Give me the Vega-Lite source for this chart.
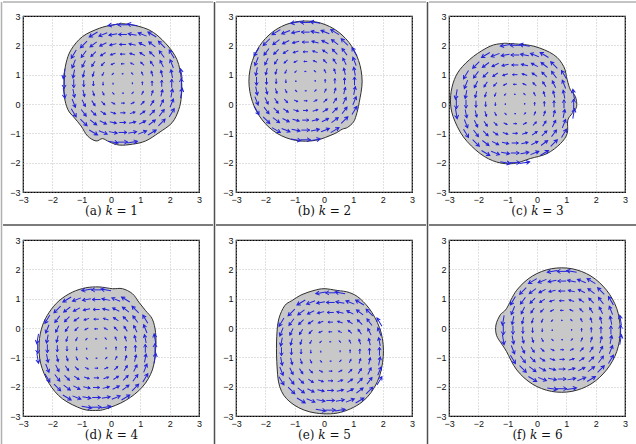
{
"$schema": "https://vega.github.io/schema/vega-lite/v6.json",
"padding": {"left": 0, "top": 1, "right": 0, "bottom": 0},
"background": "white",
"datasets": {
"blob": [
{"p":"a","o":1,"x":0.5,"y":2.73},{"p":"a","o":2,"x":1.29,"y":2.53},{"p":"a","o":3,"x":1.86,"y":2.07},{"p":"a","o":4,"x":2.25,"y":1.51},{"p":"a","o":5,"x":2.4,"y":0.83},{"p":"a","o":6,"x":2.4,"y":0.27},{"p":"a","o":7,"x":2.31,"y":-0.19},{"p":"a","o":8,"x":2.08,"y":-0.64},{"p":"a","o":9,"x":1.63,"y":-0.98},{"p":"a","o":10,"x":1.18,"y":-1.26},{"p":"a","o":11,"x":0.73,"y":-1.37},{"p":"a","o":12,"x":0.28,"y":-1.4},{"p":"a","o":13,"x":-0.06,"y":-1.29},{"p":"a","o":14,"x":-0.29,"y":-1.18},{"p":"a","o":15,"x":-0.51,"y":-1.26},{"p":"a","o":16,"x":-0.8,"y":-1.09},{"p":"a","o":17,"x":-1.02,"y":-0.75},{"p":"a","o":18,"x":-1.25,"y":-0.47},{"p":"a","o":19,"x":-1.47,"y":-0.19},{"p":"a","o":20,"x":-1.59,"y":0.27},{"p":"a","o":21,"x":-1.59,"y":0.94},{"p":"a","o":22,"x":-1.53,"y":1.4},{"p":"a","o":23,"x":-1.36,"y":1.85},{"p":"a","o":24,"x":-0.97,"y":2.3},{"p":"a","o":25,"x":-0.4,"y":2.58},{"p":"a","o":26,"x":0.05,"y":2.69},
{"p":"b","o":1,"x":1.3,"y":0.78},{"p":"b","o":2,"x":1.18,"y":1.48},{"p":"b","o":3,"x":0.85,"y":2.1},{"p":"b","o":4,"x":0.34,"y":2.56},{"p":"b","o":5,"x":-0.29,"y":2.8},{"p":"b","o":6,"x":-0.97,"y":2.8},{"p":"b","o":7,"x":-1.6,"y":2.56},{"p":"b","o":8,"x":-2.11,"y":2.1},{"p":"b","o":9,"x":-2.44,"y":1.48},{"p":"b","o":10,"x":-2.56,"y":0.78},{"p":"b","o":11,"x":-2.44,"y":0.08},{"p":"b","o":12,"x":-2.11,"y":-0.54},{"p":"b","o":13,"x":-1.6,"y":-1.0},{"p":"b","o":14,"x":-0.97,"y":-1.24},{"p":"b","o":15,"x":-0.29,"y":-1.24},{"p":"b","o":16,"x":0.34,"y":-1.02},{"p":"b","o":17,"x":0.62,"y":-0.86},{"p":"b","o":18,"x":0.8,"y":-0.8},{"p":"b","o":19,"x":1.0,"y":-0.62},{"p":"b","o":20,"x":1.1,"y":-0.38},{"p":"b","o":21,"x":1.2,"y":0.05},
{"p":"c","o":1,"x":-0.91,"y":2.06},{"p":"c","o":2,"x":-0.11,"y":1.97},{"p":"c","o":3,"x":0.57,"y":1.68},{"p":"c","o":4,"x":0.91,"y":1.28},{"p":"c","o":5,"x":1.03,"y":0.82},{"p":"c","o":6,"x":1.14,"y":0.48},{"p":"c","o":7,"x":1.31,"y":0.25},{"p":"c","o":8,"x":1.35,"y":-0.09},{"p":"c","o":9,"x":1.2,"y":-0.32},{"p":"c","o":10,"x":1.05,"y":-0.55},{"p":"c","o":11,"x":1.03,"y":-1.0},{"p":"c","o":12,"x":0.8,"y":-1.35},{"p":"c","o":13,"x":0.34,"y":-1.69},{"p":"c","o":14,"x":-0.23,"y":-1.86},{"p":"c","o":15,"x":-0.8,"y":-2.03},{"p":"c","o":16,"x":-1.37,"y":-1.98},{"p":"c","o":17,"x":-1.94,"y":-1.69},{"p":"c","o":18,"x":-2.51,"y":-1.12},{"p":"c","o":19,"x":-2.86,"y":-0.43},{"p":"c","o":20,"x":-2.95,"y":0.14},{"p":"c","o":21,"x":-2.86,"y":0.71},{"p":"c","o":22,"x":-2.63,"y":1.17},{"p":"c","o":23,"x":-2.17,"y":1.62},{"p":"c","o":24,"x":-1.6,"y":1.97},{"p":"c","o":25,"x":-1.2,"y":2.06},
{"p":"d","o":1,"x":-0.41,"y":1.4},{"p":"d","o":2,"x":0.05,"y":1.34},{"p":"d","o":3,"x":0.39,"y":1.34},{"p":"d","o":4,"x":0.73,"y":1.17},{"p":"d","o":5,"x":0.95,"y":0.88},{"p":"d","o":6,"x":1.18,"y":0.59},{"p":"d","o":7,"x":1.41,"y":0.3},{"p":"d","o":8,"x":1.52,"y":-0.16},{"p":"d","o":9,"x":1.52,"y":-0.74},{"p":"d","o":10,"x":1.41,"y":-1.43},{"p":"d","o":11,"x":1.07,"y":-2.01},{"p":"d","o":12,"x":0.5,"y":-2.47},{"p":"d","o":13,"x":-0.18,"y":-2.76},{"p":"d","o":14,"x":-0.52,"y":-2.81},{"p":"d","o":15,"x":-0.98,"y":-2.76},{"p":"d","o":16,"x":-1.66,"y":-2.41},{"p":"d","o":17,"x":-2.11,"y":-1.89},{"p":"d","o":18,"x":-2.4,"y":-1.2},{"p":"d","o":19,"x":-2.45,"y":-0.51},{"p":"d","o":20,"x":-2.34,"y":0.07},{"p":"d","o":21,"x":-2.11,"y":0.53},{"p":"d","o":22,"x":-1.77,"y":0.93},{"p":"d","o":23,"x":-1.32,"y":1.22},{"p":"d","o":24,"x":-0.86,"y":1.37},
{"p":"e","o":1,"x":-0.75,"y":1.14},{"p":"e","o":2,"x":-0.34,"y":1.28},{"p":"e","o":3,"x":0.0,"y":1.34},{"p":"e","o":4,"x":0.45,"y":1.28},{"p":"e","o":5,"x":0.86,"y":1.21},{"p":"e","o":6,"x":1.23,"y":1.0},{"p":"e","o":7,"x":1.64,"y":0.52},{"p":"e","o":8,"x":1.95,"y":-0.17},{"p":"e","o":9,"x":2.02,"y":-0.97},{"p":"e","o":10,"x":1.82,"y":-1.83},{"p":"e","o":11,"x":1.3,"y":-2.52},{"p":"e","o":12,"x":0.45,"y":-2.9},{"p":"e","o":13,"x":-0.48,"y":-2.86},{"p":"e","o":14,"x":-1.16,"y":-2.52},{"p":"e","o":15,"x":-1.51,"y":-2.0},{"p":"e","o":16,"x":-1.61,"y":-1.14},{"p":"e","o":17,"x":-1.61,"y":-0.28},{"p":"e","o":18,"x":-1.54,"y":0.31},{"p":"e","o":19,"x":-1.34,"y":0.76},{"p":"e","o":20,"x":-1.1,"y":0.93},
{"p":"f","o":1,"x":2.84,"y":-0.07},{"p":"f","o":2,"x":2.72,"y":0.66},{"p":"f","o":3,"x":2.37,"y":1.29},{"p":"f","o":4,"x":1.84,"y":1.77},{"p":"f","o":5,"x":1.19,"y":2.02},{"p":"f","o":6,"x":0.49,"y":2.02},{"p":"f","o":7,"x":-0.16,"y":1.77},{"p":"f","o":8,"x":-0.69,"y":1.29},{"p":"f","o":9,"x":-1.04,"y":0.66},{"p":"f","o":10,"x":-1.25,"y":0.45},{"p":"f","o":11,"x":-1.4,"y":0.1},{"p":"f","o":12,"x":-1.38,"y":-0.25},{"p":"f","o":13,"x":-1.2,"y":-0.55},{"p":"f","o":14,"x":-1.04,"y":-0.8},{"p":"f","o":15,"x":-0.69,"y":-1.43},{"p":"f","o":16,"x":-0.16,"y":-1.91},{"p":"f","o":17,"x":0.49,"y":-2.16},{"p":"f","o":18,"x":1.19,"y":-2.16},{"p":"f","o":19,"x":1.84,"y":-1.91},{"p":"f","o":20,"x":2.37,"y":-1.43},{"p":"f","o":21,"x":2.72,"y":-0.8}
],
"arrows": [
{"dx":0.33,"dy":0,"dir":90,"sp":0.33},{"dx":0.67,"dy":0,"dir":90,"sp":0.67},{"dx":1,"dy":0,"dir":90,"sp":1},{"dx":1.33,"dy":0,"dir":90,"sp":1.33},{"dx":1.67,"dy":0,"dir":90,"sp":1.67},{"dx":2,"dy":0,"dir":90,"sp":2},
{"dx":-0.33,"dy":0,"dir":270,"sp":0.33},{"dx":-0.67,"dy":0,"dir":270,"sp":0.67},{"dx":-1,"dy":0,"dir":270,"sp":1},{"dx":-1.33,"dy":0,"dir":270,"sp":1.33},{"dx":-1.67,"dy":0,"dir":270,"sp":1.67},{"dx":-2,"dy":0,"dir":270,"sp":2},
{"dx":0,"dy":0.33,"dir":180,"sp":0.33},{"dx":0,"dy":0.67,"dir":180,"sp":0.67},{"dx":0,"dy":1,"dir":180,"sp":1},{"dx":0,"dy":1.33,"dir":180,"sp":1.33},{"dx":0,"dy":1.67,"dir":180,"sp":1.67},{"dx":0,"dy":2,"dir":180,"sp":2},
{"dx":0,"dy":-0.33,"dir":0,"sp":0.33},{"dx":0,"dy":-0.67,"dir":0,"sp":0.67},{"dx":0,"dy":-1,"dir":0,"sp":1},{"dx":0,"dy":-1.33,"dir":0,"sp":1.33},{"dx":0,"dy":-1.67,"dir":0,"sp":1.67},{"dx":0,"dy":-2,"dir":0,"sp":2},
{"dx":0.33,"dy":0.33,"dir":135,"sp":0.47},{"dx":-0.33,"dy":0.33,"dir":225,"sp":0.47},{"dx":-0.33,"dy":-0.33,"dir":315,"sp":0.47},{"dx":0.33,"dy":-0.33,"dir":45,"sp":0.47},
{"dx":0.33,"dy":0.67,"dir":153.4,"sp":0.75},{"dx":-0.33,"dy":0.67,"dir":206.6,"sp":0.75},{"dx":-0.33,"dy":-0.67,"dir":333.4,"sp":0.75},{"dx":0.33,"dy":-0.67,"dir":26.6,"sp":0.75},
{"dx":0.33,"dy":1,"dir":161.6,"sp":1.05},{"dx":-0.33,"dy":1,"dir":198.4,"sp":1.05},{"dx":-0.33,"dy":-1,"dir":341.6,"sp":1.05},{"dx":0.33,"dy":-1,"dir":18.4,"sp":1.05},
{"dx":0.33,"dy":1.33,"dir":166,"sp":1.37},{"dx":-0.33,"dy":1.33,"dir":194,"sp":1.37},{"dx":-0.33,"dy":-1.33,"dir":346,"sp":1.37},{"dx":0.33,"dy":-1.33,"dir":14,"sp":1.37},
{"dx":0.33,"dy":1.67,"dir":168.7,"sp":1.7},{"dx":-0.33,"dy":1.67,"dir":191.3,"sp":1.7},{"dx":-0.33,"dy":-1.67,"dir":348.7,"sp":1.7},{"dx":0.33,"dy":-1.67,"dir":11.3,"sp":1.7},
{"dx":0.33,"dy":2,"dir":170.5,"sp":2.03},{"dx":-0.33,"dy":2,"dir":189.5,"sp":2.03},{"dx":-0.33,"dy":-2,"dir":350.5,"sp":2.03},{"dx":0.33,"dy":-2,"dir":9.5,"sp":2.03},
{"dx":0.67,"dy":0.33,"dir":116.6,"sp":0.75},{"dx":-0.67,"dy":0.33,"dir":243.4,"sp":0.75},{"dx":-0.67,"dy":-0.33,"dir":296.6,"sp":0.75},{"dx":0.67,"dy":-0.33,"dir":63.4,"sp":0.75},
{"dx":0.67,"dy":0.67,"dir":135,"sp":0.94},{"dx":-0.67,"dy":0.67,"dir":225,"sp":0.94},{"dx":-0.67,"dy":-0.67,"dir":315,"sp":0.94},{"dx":0.67,"dy":-0.67,"dir":45,"sp":0.94},
{"dx":0.67,"dy":1,"dir":146.3,"sp":1.2},{"dx":-0.67,"dy":1,"dir":213.7,"sp":1.2},{"dx":-0.67,"dy":-1,"dir":326.3,"sp":1.2},{"dx":0.67,"dy":-1,"dir":33.7,"sp":1.2},
{"dx":0.67,"dy":1.33,"dir":153.4,"sp":1.49},{"dx":-0.67,"dy":1.33,"dir":206.6,"sp":1.49},{"dx":-0.67,"dy":-1.33,"dir":333.4,"sp":1.49},{"dx":0.67,"dy":-1.33,"dir":26.6,"sp":1.49},
{"dx":0.67,"dy":1.67,"dir":158.2,"sp":1.8},{"dx":-0.67,"dy":1.67,"dir":201.8,"sp":1.8},{"dx":-0.67,"dy":-1.67,"dir":338.2,"sp":1.8},{"dx":0.67,"dy":-1.67,"dir":21.8,"sp":1.8},
{"dx":1,"dy":0.33,"dir":108.4,"sp":1.05},{"dx":-1,"dy":0.33,"dir":251.6,"sp":1.05},{"dx":-1,"dy":-0.33,"dir":288.4,"sp":1.05},{"dx":1,"dy":-0.33,"dir":71.6,"sp":1.05},
{"dx":1,"dy":0.67,"dir":123.7,"sp":1.2},{"dx":-1,"dy":0.67,"dir":236.3,"sp":1.2},{"dx":-1,"dy":-0.67,"dir":303.7,"sp":1.2},{"dx":1,"dy":-0.67,"dir":56.3,"sp":1.2},
{"dx":1,"dy":1,"dir":135,"sp":1.41},{"dx":-1,"dy":1,"dir":225,"sp":1.41},{"dx":-1,"dy":-1,"dir":315,"sp":1.41},{"dx":1,"dy":-1,"dir":45,"sp":1.41},
{"dx":1,"dy":1.33,"dir":143.1,"sp":1.67},{"dx":-1,"dy":1.33,"dir":216.9,"sp":1.67},{"dx":-1,"dy":-1.33,"dir":323.1,"sp":1.67},{"dx":1,"dy":-1.33,"dir":36.9,"sp":1.67},
{"dx":1,"dy":1.67,"dir":149,"sp":1.94},{"dx":-1,"dy":1.67,"dir":211,"sp":1.94},{"dx":-1,"dy":-1.67,"dir":329,"sp":1.94},{"dx":1,"dy":-1.67,"dir":31,"sp":1.94},
{"dx":1.33,"dy":0.33,"dir":104,"sp":1.37},{"dx":-1.33,"dy":0.33,"dir":256,"sp":1.37},{"dx":-1.33,"dy":-0.33,"dir":284,"sp":1.37},{"dx":1.33,"dy":-0.33,"dir":76,"sp":1.37},
{"dx":1.33,"dy":0.67,"dir":116.6,"sp":1.49},{"dx":-1.33,"dy":0.67,"dir":243.4,"sp":1.49},{"dx":-1.33,"dy":-0.67,"dir":296.6,"sp":1.49},{"dx":1.33,"dy":-0.67,"dir":63.4,"sp":1.49},
{"dx":1.33,"dy":1,"dir":126.9,"sp":1.67},{"dx":-1.33,"dy":1,"dir":233.1,"sp":1.67},{"dx":-1.33,"dy":-1,"dir":306.9,"sp":1.67},{"dx":1.33,"dy":-1,"dir":53.1,"sp":1.67},
{"dx":1.33,"dy":1.33,"dir":135,"sp":1.89},{"dx":-1.33,"dy":1.33,"dir":225,"sp":1.89},{"dx":-1.33,"dy":-1.33,"dir":315,"sp":1.89},{"dx":1.33,"dy":-1.33,"dir":45,"sp":1.89},
{"dx":1.67,"dy":0.33,"dir":101.3,"sp":1.7},{"dx":-1.67,"dy":0.33,"dir":258.7,"sp":1.7},{"dx":-1.67,"dy":-0.33,"dir":281.3,"sp":1.7},{"dx":1.67,"dy":-0.33,"dir":78.7,"sp":1.7},
{"dx":1.67,"dy":0.67,"dir":111.8,"sp":1.8},{"dx":-1.67,"dy":0.67,"dir":248.2,"sp":1.8},{"dx":-1.67,"dy":-0.67,"dir":291.8,"sp":1.8},{"dx":1.67,"dy":-0.67,"dir":68.2,"sp":1.8},
{"dx":1.67,"dy":1,"dir":121,"sp":1.94},{"dx":-1.67,"dy":1,"dir":239,"sp":1.94},{"dx":-1.67,"dy":-1,"dir":301,"sp":1.94},{"dx":1.67,"dy":-1,"dir":59,"sp":1.94},
{"dx":2,"dy":0.33,"dir":99.5,"sp":2.03},{"dx":-2,"dy":0.33,"dir":260.5,"sp":2.03},{"dx":-2,"dy":-0.33,"dir":279.5,"sp":2.03},{"dx":2,"dy":-0.33,"dir":80.5,"sp":2.03}
]
},
"spacing": -2,
"hconcat": [
{"width":1,"height":444,"data":{"values":[{}]},"mark":{"type":"rule","color":"#b0b0b0","strokeWidth":1.5},"encoding":{"x":{"datum":0,"type":"quantitative","scale":{"domain":[-1,1]},"axis":null}}},
{"spacing":7,"vconcat":[
 {"width":210,"height":2,"data":{"values":[{}]},"mark":{"type":"rule","color":"#b0b0b0","strokeWidth":1.5},"encoding":{"y":{"datum":1,"type":"quantitative","scale":{"domain":[0,1]},"axis":null}}},
 {"spacing":5,"hconcat":[
  {"width":1,"height":1,"data":{"values":[]},"mark":"point"},
  {"width":176,"height":176,"view":{"stroke":"#000","strokeWidth":1.2},
   "layer":[
    {"data":{"name":"blob"},"transform":[{"filter":"datum.p==='a'"}],"mark":{"type":"line","interpolate":"cardinal-closed","fill":"#c8c8c8","stroke":"#303030","strokeWidth":1},
     "encoding":{"x":{"field":"x","type":"quantitative","scale":{"domain":[-3,3],"nice":false,"zero":false},"axis":{"values":[-3,-2,-1,0,1,2,3],"title":"(a) 𝑘 = 1"}},
      "y":{"field":"y","type":"quantitative","scale":{"domain":[-3,3],"nice":false,"zero":false},"axis":{"values":[-3,-2,-1,0,1,2,3],"title":null}},
      "order":{"field":"o"}}},
    {"data":{"name":"arrows"},"mark":{"type":"point","shape":"M-1,0L1,0M0.3,-0.4L1,0L0.3,0.4","filled":false,"stroke":"#2323dc","strokeWidth":1,"opacity":1},
     "encoding":{"x":{"field":"dx","type":"quantitative","scale":{"domain":[-3.4,2.6],"nice":false,"zero":false},"axis":null},
      "y":{"field":"dy","type":"quantitative","scale":{"domain":[-3.7,2.3],"nice":false,"zero":false},"axis":null},
      "angle":{"field":"dir","type":"quantitative","scale":{"domain":[0,360],"range":[360,0]},"legend":null},
      "size":{"field":"sp","type":"quantitative","scale":{"type":"pow","exponent":2,"domain":[0,2],"range":[0,100]},"legend":null}}}
   ],
   "resolve":{"scale":{"x":"independent","y":"independent"}}}
 ]},
 {"width":210,"height":3,"data":{"values":[{}]},"mark":{"type":"rule","color":"#505050","strokeWidth":1.5},"encoding":{"y":{"datum":1,"type":"quantitative","scale":{"domain":[0,1]},"axis":null}}},
 {"spacing":5,"hconcat":[
  {"width":1,"height":1,"data":{"values":[]},"mark":"point"},
  {"width":176,"height":176,"view":{"stroke":"#000","strokeWidth":1.2},
   "layer":[
    {"data":{"name":"blob"},"transform":[{"filter":"datum.p==='d'"}],"mark":{"type":"line","interpolate":"cardinal-closed","fill":"#c8c8c8","stroke":"#303030","strokeWidth":1},
     "encoding":{"x":{"field":"x","type":"quantitative","scale":{"domain":[-3,3],"nice":false,"zero":false},"axis":{"values":[-3,-2,-1,0,1,2,3],"title":"(d) 𝑘 = 4"}},
      "y":{"field":"y","type":"quantitative","scale":{"domain":[-3,3],"nice":false,"zero":false},"axis":{"values":[-3,-2,-1,0,1,2,3],"title":null}},
      "order":{"field":"o"}}},
    {"data":{"name":"arrows"},"mark":{"type":"point","shape":"M-1,0L1,0M0.3,-0.4L1,0L0.3,0.4","filled":false,"stroke":"#2323dc","strokeWidth":1,"opacity":1},
     "encoding":{"x":{"field":"dx","type":"quantitative","scale":{"domain":[-2.5,3.5],"nice":false,"zero":false},"axis":null},
      "y":{"field":"dy","type":"quantitative","scale":{"domain":[-2.3,3.7],"nice":false,"zero":false},"axis":null},
      "angle":{"field":"dir","type":"quantitative","scale":{"domain":[0,360],"range":[360,0]},"legend":null},
      "size":{"field":"sp","type":"quantitative","scale":{"type":"pow","exponent":2,"domain":[0,2],"range":[0,100]},"legend":null}}}
   ],
   "resolve":{"scale":{"x":"independent","y":"independent"}}}
 ]}
]},
{"width":1,"height":444,"data":{"values":[{}]},"mark":{"type":"rule","color":"#505050","strokeWidth":1.5},"encoding":{"x":{"datum":0,"type":"quantitative","scale":{"domain":[-1,1]},"axis":null}}},
{"spacing":7,"vconcat":[
 {"width":210,"height":2,"data":{"values":[{}]},"mark":{"type":"rule","color":"#b0b0b0","strokeWidth":1.5},"encoding":{"y":{"datum":1,"type":"quantitative","scale":{"domain":[0,1]},"axis":null}}},
 {"spacing":5,"hconcat":[
  {"width":1,"height":1,"data":{"values":[]},"mark":"point"},
  {"width":176,"height":176,"view":{"stroke":"#000","strokeWidth":1.2},
   "layer":[
    {"data":{"name":"blob"},"transform":[{"filter":"datum.p==='b'"}],"mark":{"type":"line","interpolate":"cardinal-closed","fill":"#c8c8c8","stroke":"#303030","strokeWidth":1},
     "encoding":{"x":{"field":"x","type":"quantitative","scale":{"domain":[-3,3],"nice":false,"zero":false},"axis":{"values":[-3,-2,-1,0,1,2,3],"title":"(b) 𝑘 = 2"}},
      "y":{"field":"y","type":"quantitative","scale":{"domain":[-3,3],"nice":false,"zero":false},"axis":{"values":[-3,-2,-1,0,1,2,3],"title":null}},
      "order":{"field":"o"}}},
    {"data":{"name":"arrows"},"transform":[{"filter":"abs(datum.dx) < 1.9"}],"mark":{"type":"point","shape":"M-1,0L1,0M0.3,-0.4L1,0L0.3,0.4","filled":false,"stroke":"#2323dc","strokeWidth":1,"opacity":1},
     "encoding":{"x":{"field":"dx","type":"quantitative","scale":{"domain":[-2.37,3.63],"nice":false,"zero":false},"axis":null},
      "y":{"field":"dy","type":"quantitative","scale":{"domain":[-3.78,2.22],"nice":false,"zero":false},"axis":null},
      "angle":{"field":"dir","type":"quantitative","scale":{"domain":[0,360],"range":[360,0]},"legend":null},
      "size":{"field":"sp","type":"quantitative","scale":{"type":"pow","exponent":2,"domain":[0,2],"range":[0,100]},"legend":null}}}
   ],
   "resolve":{"scale":{"x":"independent","y":"independent"}}}
 ]},
 {"width":210,"height":3,"data":{"values":[{}]},"mark":{"type":"rule","color":"#505050","strokeWidth":1.5},"encoding":{"y":{"datum":1,"type":"quantitative","scale":{"domain":[0,1]},"axis":null}}},
 {"spacing":5,"hconcat":[
  {"width":1,"height":1,"data":{"values":[]},"mark":"point"},
  {"width":176,"height":176,"view":{"stroke":"#000","strokeWidth":1.2},
   "layer":[
    {"data":{"name":"blob"},"transform":[{"filter":"datum.p==='e'"}],"mark":{"type":"line","interpolate":"cardinal-closed","fill":"#c8c8c8","stroke":"#303030","strokeWidth":1},
     "encoding":{"x":{"field":"x","type":"quantitative","scale":{"domain":[-3,3],"nice":false,"zero":false},"axis":{"values":[-3,-2,-1,0,1,2,3],"title":"(e) 𝑘 = 5"}},
      "y":{"field":"y","type":"quantitative","scale":{"domain":[-3,3],"nice":false,"zero":false},"axis":{"values":[-3,-2,-1,0,1,2,3],"title":null}},
      "order":{"field":"o"}}},
    {"data":{"name":"arrows"},"transform":[{"filter":"abs(datum.dx) < 1.9"}],"mark":{"type":"point","shape":"M-1,0L1,0M0.3,-0.4L1,0L0.3,0.4","filled":false,"stroke":"#2323dc","strokeWidth":1,"opacity":1},
     "encoding":{"x":{"field":"dx","type":"quantitative","scale":{"domain":[-3.22,2.78],"nice":false,"zero":false},"axis":null},
      "y":{"field":"dy","type":"quantitative","scale":{"domain":[-2.2,3.8],"nice":false,"zero":false},"axis":null},
      "angle":{"field":"dir","type":"quantitative","scale":{"domain":[0,360],"range":[360,0]},"legend":null},
      "size":{"field":"sp","type":"quantitative","scale":{"type":"pow","exponent":2,"domain":[0,2],"range":[0,100]},"legend":null}}}
   ],
   "resolve":{"scale":{"x":"independent","y":"independent"}}}
 ]}
]},
{"width":1,"height":444,"data":{"values":[{}]},"mark":{"type":"rule","color":"#505050","strokeWidth":1.5},"encoding":{"x":{"datum":0,"type":"quantitative","scale":{"domain":[-1,1]},"axis":null}}},
{"spacing":7,"vconcat":[
 {"width":210,"height":2,"data":{"values":[{}]},"mark":{"type":"rule","color":"#b0b0b0","strokeWidth":1.5},"encoding":{"y":{"datum":1,"type":"quantitative","scale":{"domain":[0,1]},"axis":null}}},
 {"spacing":5,"hconcat":[
  {"width":1,"height":1,"data":{"values":[]},"mark":"point"},
  {"width":176,"height":176,"view":{"stroke":"#000","strokeWidth":1.2},
   "layer":[
    {"data":{"name":"blob"},"transform":[{"filter":"datum.p==='c'"}],"mark":{"type":"line","interpolate":"cardinal-closed","fill":"#c8c8c8","stroke":"#303030","strokeWidth":1},
     "encoding":{"x":{"field":"x","type":"quantitative","scale":{"domain":[-3,3],"nice":false,"zero":false},"axis":{"values":[-3,-2,-1,0,1,2,3],"title":"(c) 𝑘 = 3"}},
      "y":{"field":"y","type":"quantitative","scale":{"domain":[-3,3],"nice":false,"zero":false},"axis":{"values":[-3,-2,-1,0,1,2,3],"title":null}},
      "order":{"field":"o"}}},
    {"data":{"name":"arrows"},"mark":{"type":"point","shape":"M-1,0L1,0M0.3,-0.4L1,0L0.3,0.4","filled":false,"stroke":"#2323dc","strokeWidth":1,"opacity":1},
     "encoding":{"x":{"field":"dx","type":"quantitative","scale":{"domain":[-2.25,3.75],"nice":false,"zero":false},"axis":null},
      "y":{"field":"dy","type":"quantitative","scale":{"domain":[-3,3],"nice":false,"zero":false},"axis":null},
      "angle":{"field":"dir","type":"quantitative","scale":{"domain":[0,360],"range":[360,0]},"legend":null},
      "size":{"field":"sp","type":"quantitative","scale":{"type":"pow","exponent":2,"domain":[0,2],"range":[0,100]},"legend":null}}}
   ],
   "resolve":{"scale":{"x":"independent","y":"independent"}}}
 ]},
 {"width":210,"height":3,"data":{"values":[{}]},"mark":{"type":"rule","color":"#505050","strokeWidth":1.5},"encoding":{"y":{"datum":1,"type":"quantitative","scale":{"domain":[0,1]},"axis":null}}},
 {"spacing":5,"hconcat":[
  {"width":1,"height":1,"data":{"values":[]},"mark":"point"},
  {"width":176,"height":176,"view":{"stroke":"#000","strokeWidth":1.2},
   "layer":[
    {"data":{"name":"blob"},"transform":[{"filter":"datum.p==='f'"}],"mark":{"type":"line","interpolate":"cardinal-closed","fill":"#c8c8c8","stroke":"#303030","strokeWidth":1},
     "encoding":{"x":{"field":"x","type":"quantitative","scale":{"domain":[-3,3],"nice":false,"zero":false},"axis":{"values":[-3,-2,-1,0,1,2,3],"title":"(f) 𝑘 = 6"}},
      "y":{"field":"y","type":"quantitative","scale":{"domain":[-3,3],"nice":false,"zero":false},"axis":{"values":[-3,-2,-1,0,1,2,3],"title":null}},
      "order":{"field":"o"}}},
    {"data":{"name":"arrows"},"mark":{"type":"point","shape":"M-1,0L1,0M0.3,-0.4L1,0L0.3,0.4","filled":false,"stroke":"#2323dc","strokeWidth":1,"opacity":1},
     "encoding":{"x":{"field":"dx","type":"quantitative","scale":{"domain":[-3.85,2.15],"nice":false,"zero":false},"axis":null},
      "y":{"field":"dy","type":"quantitative","scale":{"domain":[-2.93,3.07],"nice":false,"zero":false},"axis":null},
      "angle":{"field":"dir","type":"quantitative","scale":{"domain":[0,360],"range":[360,0]},"legend":null},
      "size":{"field":"sp","type":"quantitative","scale":{"type":"pow","exponent":2,"domain":[0,2],"range":[0,100]},"legend":null}}}
   ],
   "resolve":{"scale":{"x":"independent","y":"independent"}}}
 ]}
]},
{"width":1,"height":444,"data":{"values":[{}]},"mark":{"type":"rule","color":"#b0b0b0","strokeWidth":1.5},"encoding":{"x":{"datum":0,"type":"quantitative","scale":{"domain":[-1,1]},"axis":null}}}
],
"config": {
 "view": {"stroke": null},
 "axis": {"labelFont":"Liberation Sans","labelFontSize":9,"labelColor":"#111","labelFlush":false,"labelPadding":3,"ticks":false,"domain":false,"grid":true,"gridColor":"#b4b4b4","gridDash":[1,2],"gridWidth":0.8,"titleFont":"DejaVu Serif","titleFontSize":12,"titleFontWeight":"normal","titleColor":"#111","titlePadding":1}
}
}
